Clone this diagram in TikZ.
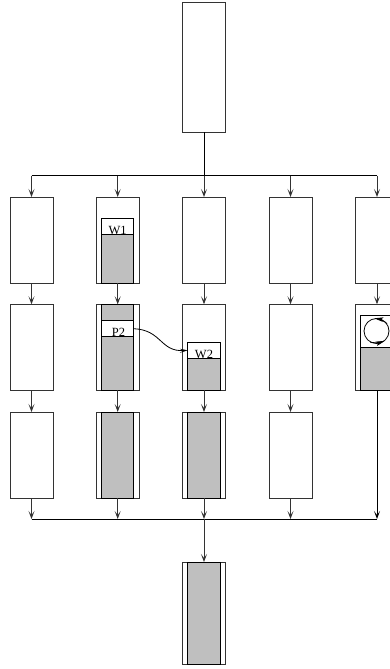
\documentclass[tikz,border=0pt]{standalone}
\usepackage{fontspec}
\setmainfont{Liberation Serif}
\usetikzlibrary{arrows.meta,positioning}
\definecolor{fillgray}{gray}{0.75}
\definecolor{linegray}{gray}{0.2}
\tikzset{
  x=1pt,y=-1pt,
  outer/.style={draw=linegray,line width=1pt,fill=white,minimum width=43pt,minimum height=86pt,inner sep=0pt,outer sep=0pt},
  tall/.style={outer,minimum height=129pt},
  last/.style={outer,minimum height=102pt},
  graypart/.style={draw=black,line width=1pt,fill=fillgray,minimum width=32.4pt,inner sep=0pt,outer sep=0pt},
  whitepart/.style={draw=black,line width=1pt,fill=white,minimum width=32.4pt,minimum height=16pt,inner sep=0pt,outer sep=0pt},
  lbl/.style={font=\fontsize{12.5}{12.5}\selectfont,inner sep=0pt,anchor=base},
  conn/.style={draw=linegray,line width=1pt,-{Stealth[length=8pt,width=6pt,inset=4pt]}},
  plainline/.style={draw=black,line width=1pt},
  ringtip/.style={black,line width=0.8pt,-{Stealth[length=9pt,width=4.5pt,inset=2pt]}}
}
\begin{document}
\begin{tikzpicture}
\useasboundingbox (0,0) rectangle (390,669);
% main boxes
\node[tall] (top) at (204,67.5) {};
\foreach \n/\x in {1/31.5,2/117.7,3/204,4/290.5,5/377}{
  \node[outer] (a\n) at (\x,240) {};
  \node[outer] (b\n) at (\x,347.3) {};
}
\foreach \n/\x in {1/31.5,2/117.7,3/204,4/290.5}{
  \node[outer] (c\n) at (\x,455) {};
}
\node[last] (bot) at (204,613) {};
% inner parts
\node[whitepart,minimum height=16.3pt] (w1) at (117.7,226.2) {};
\node[graypart,minimum height=48.7pt] (g1) at (117.7,258.7) {};
\node[graypart,minimum height=16.4pt] (g2a) at (117.7,312.5) {};
\node[whitepart] (p2) at (117.7,328.7) {};
\node[graypart,minimum height=53.6pt] (g2b) at (117.7,363.5) {};
\node[whitepart] (w2) at (204,350.3) {};
\node[graypart,minimum height=32pt] (g3) at (204,374.3) {};
\node[whitepart,minimum height=32.3pt] (w5) at (377,331.2) {};
\node[graypart,minimum height=43pt] (g5) at (377,368.8) {};
\node[graypart,minimum height=86pt] (g6) at (117.7,455) {};
\node[graypart,minimum height=86pt] (g7) at (204,455) {};
\node[graypart,minimum height=102pt] (g8) at (204,613) {};
% labels
\node[lbl] (l1) at (117.7,234.3) {W1};
\node[lbl] (l2) at (118.5,336.7) {P2};
\node[lbl] (l3) at (204,358.3) {W2};
% circle in the last column
\node[circle,draw=black,line width=0.8pt,minimum size=25pt,inner sep=0pt] (ring) at (376.5,331) {};
\draw[ringtip] (ring.35) to[bend right=14] (ring.100);
\draw[ringtip] (ring.240) to[bend right=14] (ring.310);
% junctions
\coordinate (topbus) at (204,175.5);
\coordinate (botbus) at (204,519);
\foreach \n/\x in {1/31.5,2/117.7,3/204,4/290.5,5/377}{
  \coordinate (t\n) at (\x,175.5);
  \coordinate (u\n) at (\x,519);
}
% connectors
\draw[plainline] (top.south) -- (topbus);
\draw[plainline] (t1) -- (t5);
\draw[plainline] (u1) -- (u5);
\foreach \n in {1,...,5}{
  \draw[conn] (t\n) -- (a\n.north);
  \draw[conn] (a\n.south) -- (b\n.north);
}
\foreach \n in {1,...,4}{
  \draw[conn] (b\n.south) -- (c\n.north);
  \draw[conn] (c\n.south) -- (u\n);
}
\draw[conn,draw=black] (b5.south) -- (u5);
\draw[conn] (botbus) -- (bot.north);
\draw[black,line width=0.8pt,-{Stealth[length=8pt,width=4pt,inset=3.5pt]}] (p2.east) .. controls (162,330) and (160,352) .. (w2.west);
\end{tikzpicture}
\end{document}
